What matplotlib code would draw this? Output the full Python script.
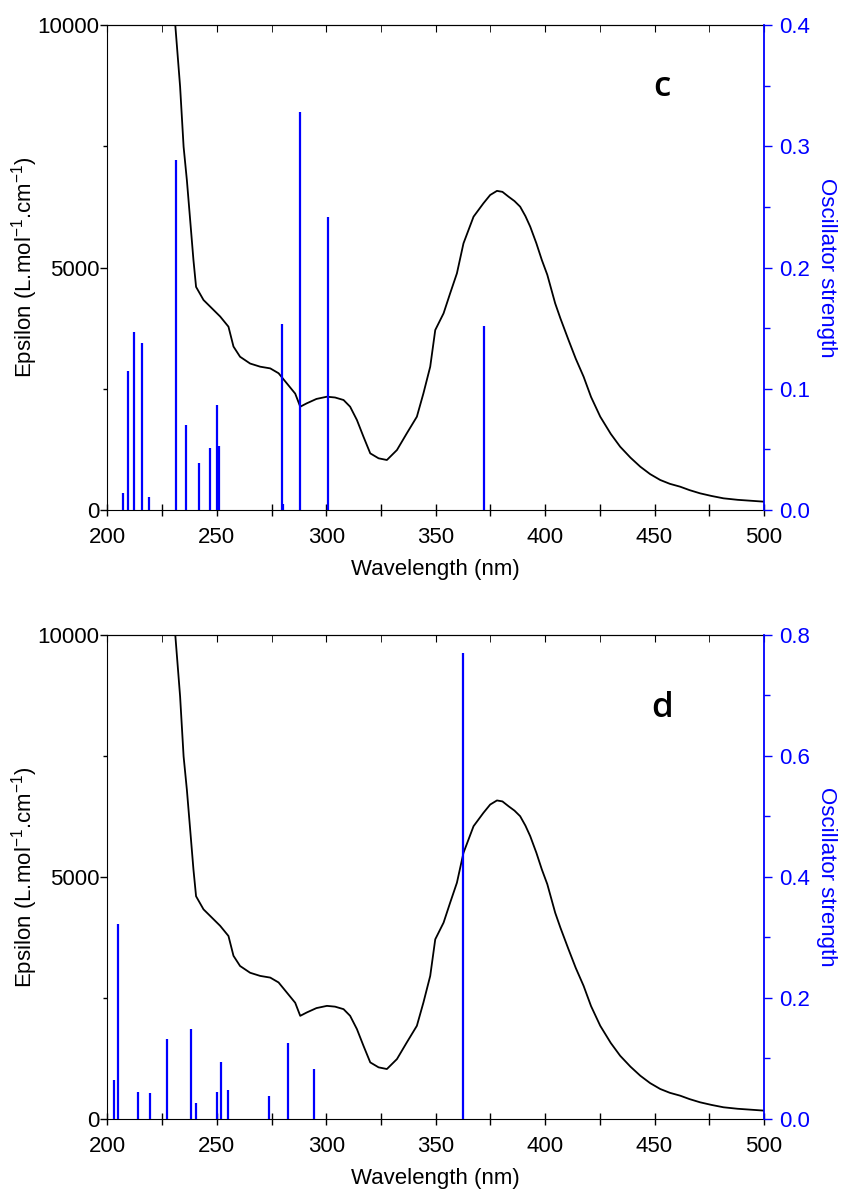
import matplotlib
matplotlib.use("Agg")
import matplotlib.pyplot as plt
from matplotlib.ticker import MultipleLocator, FormatStrFormatter

plt.rcParams['font.family'] = ['Liberation Sans', 'DejaVu Sans']
plt.rcParams['mathtext.fontset'] = 'custom'
plt.rcParams['mathtext.rm'] = 'Liberation Sans'
plt.rcParams['mathtext.it'] = 'Liberation Sans:italic'

# measured absorption spectrum (same in both panels)
wl_nm = [229.5, 231.0, 233.2, 234.8, 236.3, 237.8, 239.3, 240.5, 243.9, 247.7,
         251.5, 255.3, 257.6, 260.6, 265.2, 269.8, 274.4, 278.2, 282.0, 285.8,
         288.1, 291.1, 295.5, 300.3, 304.0, 307.9, 310.9, 314.0, 317.0, 320.1,
         323.9, 327.7, 332.3, 336.8, 341.4, 344.4, 347.5, 349.8, 353.6, 356.6,
         359.7, 362.7, 367.3, 371.8, 374.9, 378.0, 380.5, 383.3, 386.0, 388.6,
         391.0, 393.2, 396.0, 398.5, 401.0, 404.6, 407.0, 410.7, 414.0, 417.6,
         421.0, 425.2, 430.0, 434.3, 439.0, 443.5, 448.0, 452.6, 457.0, 461.7,
         466.0, 470.8, 476.0, 481.5, 488.0, 493.7, 500.0]
epsilon = [11000, 10000, 8730, 7490, 6800, 5980, 5155, 4600, 4330, 4160,
           3990, 3780, 3370, 3160, 3020, 2955, 2920, 2820, 2610, 2400,
           2130, 2200, 2290, 2336, 2320, 2268, 2130, 1856, 1511, 1168,
           1066, 1031, 1237, 1581, 1924, 2406, 2955, 3711, 4055, 4467,
           4880, 5498, 6048, 6323, 6495, 6580, 6560, 6460, 6370, 6254,
           6060, 5842, 5500, 5155, 4850, 4261, 3950, 3505, 3120, 2748,
           2330, 1924, 1570, 1305, 1080, 893, 740, 619, 540, 481,
           410, 344, 290, 241, 210, 192, 172]

# calculated transitions, panel c
c_wl = [207.0, 209.6, 212.3, 215.7, 219.2, 231.3, 236.1, 241.9, 246.9, 250.0,
        250.9, 279.7, 280.3, 288.1, 301.0, 372.3]
c_f = [0.0143, 0.1149, 0.147, 0.138, 0.0105, 0.289, 0.0699, 0.0388, 0.0514, 0.0866,
       0.0528, 0.1534, 0.005, 0.3285, 0.242, 0.1518]

# calculated transitions, panel d
d_wl = [203.2, 204.9, 214.0, 219.3, 227.3, 238.3, 240.3, 250.1, 252.1, 255.0,
        274.0, 282.4, 294.2, 362.5]
d_f = [0.064, 0.322, 0.0451, 0.0424, 0.132, 0.148, 0.027, 0.045, 0.0947, 0.048,
       0.0385, 0.126, 0.0826, 0.770]

x_ticks = [200, 250, 300, 350, 400, 450, 500]
eps_ticks = [0, 5000, 10000]

BLUE = '#0000ff'
FS = 16


def draw_panel(ax, bar_wl, bar_f, f_max, f_major, letter, letter_y):
    ax.plot(wl_nm, epsilon, color='black', lw=1.3, zorder=3)
    ax.set_xlim(200, 500)
    ax.set_ylim(0, 10000)
    ax.set_xticks(x_ticks)
    ax.set_yticks(eps_ticks)
    ax.xaxis.set_minor_locator(MultipleLocator(25))
    ax.yaxis.set_minor_locator(MultipleLocator(2500))
    ax.tick_params(axis='x', which='major', direction='inout', length=8, width=1,
                   labelsize=FS, pad=8)
    ax.tick_params(axis='x', which='minor', direction='inout', length=8, width=1)
    ax.tick_params(axis='y', which='major', direction='out', length=5, width=1,
                   labelsize=FS, pad=1)
    ax.tick_params(axis='y', which='minor', direction='out', length=3, width=1)
    ax.set_xlabel('Wavelength (nm)', fontsize=FS, labelpad=8)
    ax.set_ylabel(r'Epsilon (L.mol$^{-1}$.cm$^{-1}$)', fontsize=FS, labelpad=-2)
    ax.spines['right'].set_visible(False)

    # ticks along the top edge, pointing inward
    top = ax.secondary_xaxis('top')
    top.set_xticks(x_ticks)
    top.xaxis.set_minor_locator(MultipleLocator(25))
    top.tick_params(which='both', direction='in', length=5, labeltop=False)

    ax2 = ax.twinx()
    ax2.vlines(bar_wl, 0, bar_f, color=BLUE, lw=1.6)
    ax2.set_ylim(0, f_max)
    ax2.yaxis.set_major_locator(MultipleLocator(f_major))
    ax2.yaxis.set_minor_locator(MultipleLocator(f_major / 2))
    ax2.yaxis.set_major_formatter(FormatStrFormatter('%.1f'))
    ax2.tick_params(axis='y', which='major', direction='out', length=6, width=1,
                    colors=BLUE, labelsize=FS, pad=5)
    ax2.tick_params(axis='y', which='minor', direction='out', length=4, width=1,
                    colors=BLUE)
    for side in ['left', 'top', 'bottom']:
        ax2.spines[side].set_visible(False)
    ax2.spines['right'].set_color(BLUE)
    ax2.spines['right'].set_linewidth(1.3)
    ax2.set_ylabel('Oscillator strength', color=BLUE, fontsize=FS,
                   rotation=270, va='bottom', labelpad=4)

    ax.text(0.845, letter_y, letter, transform=ax.transAxes, fontsize=25,
            family='Open Sans', fontweight='semibold', ha='center', va='center')


fig = plt.figure(figsize=(8.46, 12.02), dpi=100)
ax_c = fig.add_axes([0.127, 0.5757, 0.776, 0.4035])
ax_d = fig.add_axes([0.127, 0.0691, 0.776, 0.4027])

draw_panel(ax_c, c_wl, c_f, 0.4, 0.1, 'c', 0.873)
draw_panel(ax_d, d_wl, d_f, 0.8, 0.2, 'd', 0.848)

fig.savefig('out.png', dpi=100)
